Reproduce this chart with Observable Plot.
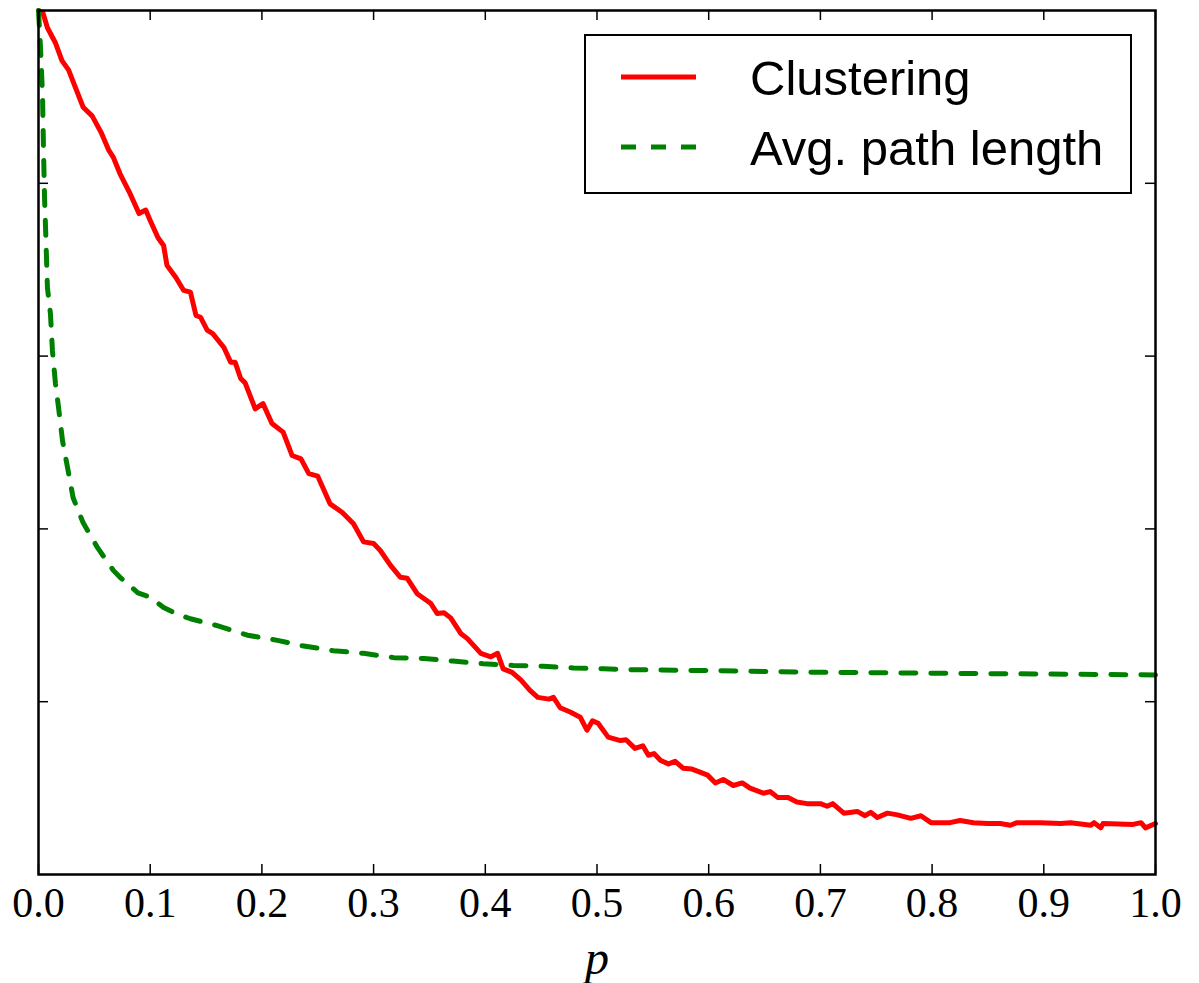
<!DOCTYPE html>
<html>
<head>
<meta charset="utf-8">
<script src="https://cdn.jsdelivr.net/npm/d3@7"></script>
<script src="https://cdn.jsdelivr.net/npm/@observablehq/plot@0.6"></script>
<style>
  html, body { margin: 0; padding: 0; background: white; }
  #chart { position: relative; width: 1199px; height: 983px; }
  #legend { position: absolute; left: 0; top: 0; pointer-events: none; }
</style>
</head>
<body>
<div id="chart"></div>
<script>
// ---- Data (normalized values) ----
const xTicks = [0, 0.1, 0.2, 0.3, 0.4, 0.5, 0.6, 0.7, 0.8, 0.9, 1.0];
const yTicks = [0.2, 0.4, 0.6, 0.8];

const clusteringP = [0,0.004,0.008,0.015,0.021,0.027,0.033,0.040,0.048,0.056,
  0.063,0.067,0.073,0.082,0.090,0.096,0.100,0.107,0.112,0.115,
  0.123,0.130,0.136,0.141,0.145,0.151,0.156,0.166,0.172,0.176,
  0.181,0.185,0.194,0.201,0.209,0.219,0.227,0.235,0.242,0.250,
  0.261,0.272,0.282,0.291,0.300,0.306,0.315,0.324,0.330,0.339,
  0.351,0.357,0.363,0.369,0.378,0.384,0.396,0.405,0.411,0.416,
  0.424,0.432,0.440,0.447,0.457,0.461,0.467,0.476,0.485,0.491,
  0.496,0.501,0.510,0.521,0.526,0.534,0.541,0.546,0.551,0.557,
  0.564,0.570,0.577,0.585,0.591,0.599,0.606,0.613,0.622,0.630,
  0.637,0.649,0.655,0.662,0.671,0.679,0.688,0.700,0.706,0.711,
  0.721,0.733,0.740,0.745,0.751,0.760,0.769,0.781,0.790,0.799,
  0.816,0.825,0.837,0.850,0.861,0.870,0.876,0.897,0.915,0.924,
  0.942,0.945,0.951,0.953,0.980,0.987,0.991,1.000];
const clusteringV = [1.000,0.997,0.980,0.963,0.942,0.931,0.911,0.888,0.878,0.859,
  0.838,0.830,0.811,0.788,0.765,0.769,0.757,0.737,0.728,0.705,
  0.691,0.676,0.674,0.647,0.645,0.630,0.626,0.610,0.593,0.593,
  0.574,0.569,0.539,0.545,0.522,0.512,0.485,0.481,0.464,0.461,
  0.429,0.419,0.406,0.385,0.383,0.375,0.358,0.344,0.343,0.325,
  0.314,0.302,0.303,0.297,0.279,0.273,0.256,0.252,0.256,0.238,
  0.234,0.225,0.213,0.205,0.203,0.205,0.193,0.188,0.182,0.167,
  0.178,0.175,0.159,0.155,0.156,0.146,0.149,0.138,0.140,0.132,
  0.128,0.131,0.123,0.122,0.119,0.115,0.106,0.110,0.103,0.106,
  0.100,0.094,0.096,0.089,0.089,0.084,0.082,0.082,0.079,0.082,
  0.071,0.073,0.068,0.072,0.066,0.071,0.069,0.065,0.068,0.060,
  0.060,0.0625,0.060,0.059,0.059,0.057,0.060,0.060,0.059,0.060,
  0.057,0.060,0.054,0.059,0.058,0.060,0.054,0.059];

const pathP = [0,0.0018,0.0036,0.0045,0.0054,0.0063,0.008,0.0107,0.0125,0.0152,0.0179,
  0.0215,0.026,0.031,0.040,0.053,0.067,0.073,0.089,0.100,0.112,0.123,0.136,
  0.160,0.187,0.214,0.235,0.264,0.291,0.318,0.345,0.371,0.398,0.425,0.452,0.479,0.506,0.533,
  0.600,0.700,0.800,0.900,1.000];
const pathV = [1.000,0.957,0.902,0.838,0.784,0.749,0.679,0.649,0.606,0.568,0.541,
  0.502,0.471,0.436,0.407,0.378,0.352,0.344,0.326,0.321,0.309,0.302,0.296,
  0.288,0.277,0.271,0.265,0.259,0.256,0.251,0.250,0.247,0.244,0.242,0.241,0.239,0.238,0.237,
  0.236,0.234,0.233,0.232,0.231];

const seriesNames = ["Clustering", "Avg. path length"];
const seriesColors = ["#ff0000", "#008000"];
const xLabel = "p";

// ---- Build tables ----
const clusteringData = clusteringP.map((p, i) => ({p, v: clusteringV[i]}));
const pathData = pathP.map((p, i) => ({p, v: pathV[i]}));

const W = 1199, H = 983;
const mL = 38, mR = 44, mT = 10, mB = 109;
const frameW = W - mL - mR, frameH = H - mT - mB;
const tickLen = 10;
const lw = 5;

const chart = Plot.plot({
  width: W,
  height: H,
  marginLeft: mL,
  marginRight: mR,
  marginTop: mT,
  marginBottom: mB,
  style: {fontFamily: "'Liberation Serif', serif", background: "white", overflow: "visible"},
  x: {domain: [0, 1]},
  y: {domain: [0, 1], axis: null},
  marks: [
    Plot.line(clusteringData, {x: "p", y: "v", stroke: seriesColors[0], strokeWidth: lw, strokeLinejoin: "round"}),
    Plot.line(pathData, {x: "p", y: "v", stroke: seriesColors[1], strokeWidth: lw, strokeDasharray: "15,15", strokeLinejoin: "round"}),
    // inward ticks on all four sides
    Plot.tickX(xTicks, {x: d => d, insetTop: frameH - tickLen, stroke: "black", strokeWidth: 1.5}),
    Plot.tickX(xTicks, {x: d => d, insetBottom: frameH - tickLen, stroke: "black", strokeWidth: 1.5}),
    Plot.tickY(yTicks, {y: d => d, insetRight: frameW - tickLen, stroke: "black", strokeWidth: 1.5}),
    Plot.tickY(yTicks, {y: d => d, insetLeft: frameW - tickLen, stroke: "black", strokeWidth: 1.5}),
    Plot.axisX({ticks: xTicks, tickFormat: d3.format(".1f"), tickSize: 0, tickPadding: 13, fontSize: 42, label: null, fill: "black"}),
    Plot.text([xLabel], {text: d => d, frameAnchor: "bottom", dy: 84, lineAnchor: "middle", fontSize: 48, fontStyle: "italic", fontFamily: "'Liberation Serif', serif", fill: "black"}),
    Plot.frame({stroke: "black", strokeWidth: 2.5})
  ]
});

const container = document.getElementById("chart");
container.appendChild(chart);

// ---- Legend overlay ----
const leg = d3.select(container).append("svg")
  .attr("id", "legend")
  .attr("width", W).attr("height", H);
const lg = leg.append("g").attr("transform", "translate(585,35)");
lg.append("rect").attr("x", 0).attr("y", 0).attr("width", 546).attr("height", 158)
  .attr("fill", "white").attr("stroke", "black").attr("stroke-width", 2);
const rows = [
  {name: seriesNames[0], color: seriesColors[0], dash: null, cy: 42},
  {name: seriesNames[1], color: seriesColors[1], dash: "15,15", cy: 112}
];
rows.forEach(r => {
  lg.append("line").attr("x1", 36).attr("x2", 111).attr("y1", r.cy).attr("y2", r.cy)
    .attr("stroke", r.color).attr("stroke-width", lw)
    .attr("stroke-dasharray", r.dash);
  lg.append("text").attr("x", 165).attr("y", r.cy + 18)
    .attr("font-family", "'Liberation Sans', Arial, sans-serif")
    .attr("font-size", 49).attr("fill", "black")
    .text(r.name);
});
</script>
</body>
</html>
